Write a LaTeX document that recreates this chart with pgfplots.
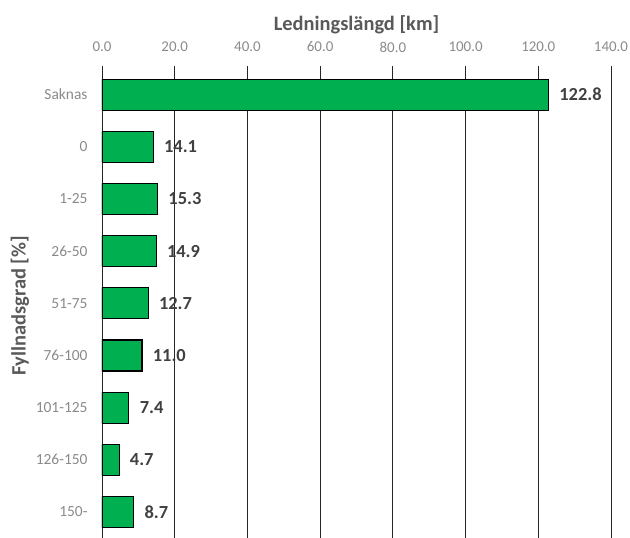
\documentclass[border=0pt]{standalone}
\usepackage{fontspec}
\setmainfont{Carlito}
\usepackage{pgfplots}
\pgfplotsset{compat=1.18}
\definecolor{barg}{HTML}{00B050}
\definecolor{tickg}{HTML}{8A8A8A}
\definecolor{titleg}{HTML}{595959}
\definecolor{valg}{HTML}{404040}
\begin{document}
\begin{tikzpicture}
\begin{axis}[
  xbar,
  scale only axis,
  width=509bp, height=472bp,
  xmin=0, xmax=140,
  ymin=-0.55, ymax=8.5,
  y dir=reverse,
  bar width=31bp,
  axis line style={draw=none},
  xtick={0,20,...,140},
  xticklabel pos=upper,
  xticklabel style={font=\fontsize{15}{17}\selectfont, text=tickg, anchor=center, yshift=19bp, /pgf/number format/fixed, /pgf/number format/precision=1, /pgf/number format/zerofill},
  /pgf/number format/assume math mode=true,
  ytick={0,...,8},
  yticklabels={Saknas,0,1-25,26-50,51-75,76-100,101-125,126-150,150-},
  yticklabel style={font=\fontsize{15.5}{17}\selectfont, text=tickg, anchor=east, xshift=-11bp},
  major tick length=0pt,
  xmajorgrids,
  grid style={draw=black!85, line width=0.9bp},
  title={\bfseries Ledningslängd [km]},
  title style={font=\fontsize{20.5}{23}\selectfont, text=titleg, at={(axis description cs:0.5,1)}, anchor=center, yshift=35bp},
  ylabel={\bfseries Fyllnadsgrad [\%]},
  every axis y label/.style={at={(axis description cs:0,0.5)}, xshift=-82bp, yshift=-4bp, rotate=90, anchor=center, font=\fontsize{20.5}{23}\selectfont, text=titleg},
  nodes near coords,
  nodes near coords align={horizontal},
  every node near coord/.append style={font=\bfseries\fontsize{18.5}{20}\selectfont, text=valg, anchor=west, xshift=7bp, /pgf/number format/fixed, /pgf/number format/precision=1, /pgf/number format/zerofill, /pgf/number format/assume math mode=true},
]
\addplot[fill=barg, draw=black, line width=1.1bp] coordinates {
(122.8,0) (14.1,1) (15.3,2) (14.9,3) (12.7,4) (11.0,5) (7.4,6) (4.7,7) (8.7,8)
};
\end{axis}
\pgfresetboundingbox
\path[use as bounding box] ([xshift=-102bp]current axis.south west) rectangle ([xshift=19bp,yshift=66bp]current axis.north east);
\end{tikzpicture}
\end{document}
